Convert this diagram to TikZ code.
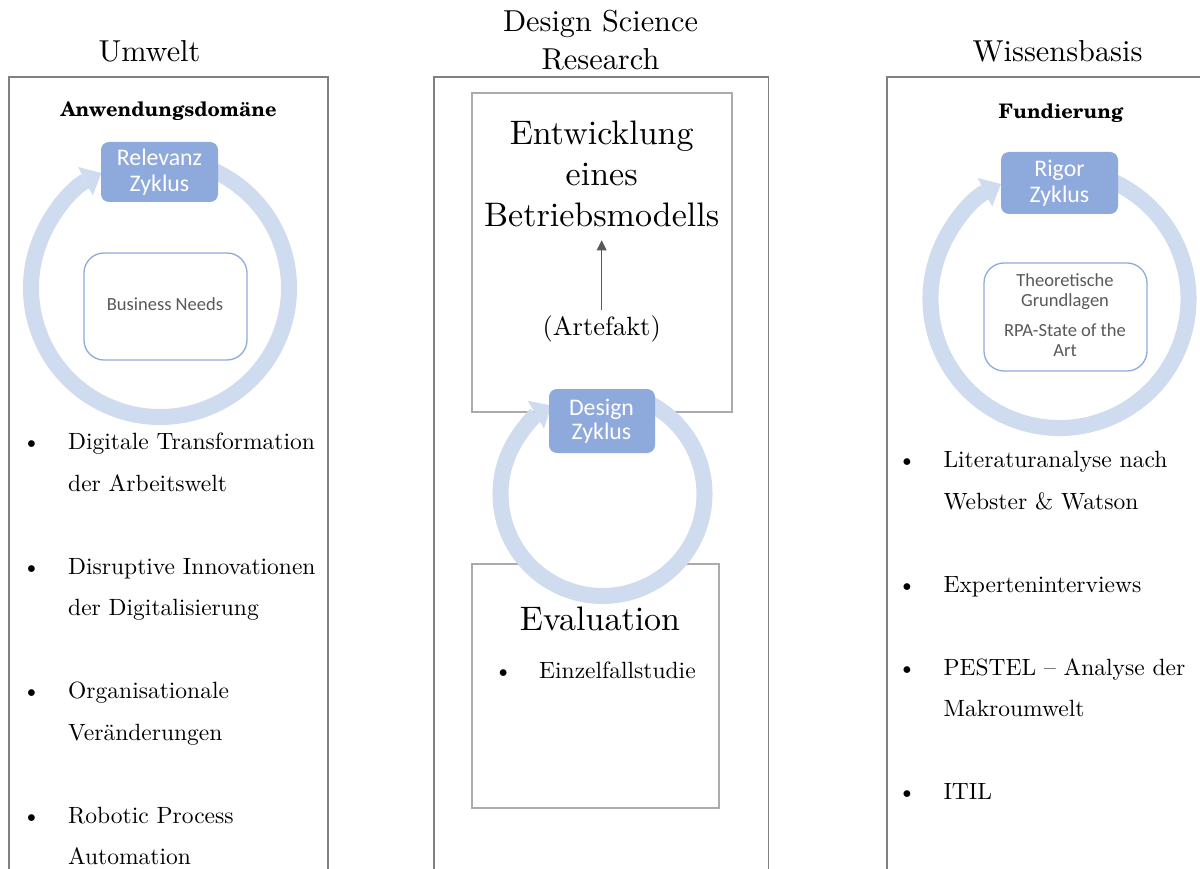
\documentclass[tikz,border=0pt]{standalone}
\usepackage{fontspec}
\setmainfont{lmroman10-regular.otf}[BoldFont=lmroman10-bold.otf]
\setsansfont{Carlito}
\newfontfamily\headfont{texgyreschola-bold.otf}
\usetikzlibrary{arrows.meta}
\definecolor{ringblue}{HTML}{CFDBEE}
\definecolor{cycfill}{HTML}{8EA9DB}
\definecolor{innerline}{HTML}{8FAADC}
\definecolor{textgray}{HTML}{595959}
\definecolor{outergray}{HTML}{808080}
\definecolor{boxgray}{HTML}{ABABAB}
\tikzset{
  titletext/.style={font=\fontsize{30.3}{36}\selectfont, anchor=base, inner sep=0pt},
  bodytext/.style={font=\fontsize{23.5}{28}\selectfont, anchor=base west, inner sep=0pt},
  bullettext/.style={font=\fontsize{23.5}{28}\selectfont, anchor=base, inner sep=0pt},
  headtext/.style={font=\headfont\fontsize{20}{24}\selectfont, anchor=base, inner sep=0pt},
  bigtext/.style={font=\fontsize{34}{40}\selectfont, anchor=base, inner sep=0pt},
  arttext/.style={font=\fontsize{26.4}{30}\selectfont, anchor=base, inner sep=0pt},
  cycbox/.style={fill=cycfill, draw=none, rounded corners=8pt, inner sep=0pt},
  cyctext/.style={font=\sffamily\fontsize{23.8}{26}\selectfont, text=white, anchor=base, inner sep=0pt},
  softbox/.style={draw=innerline, line width=1.3pt, rounded corners=20pt, inner sep=0pt},
  softtext/.style={font=\sffamily\fontsize{18.5}{20}\selectfont, text=textgray, anchor=base, inner sep=0pt},
  outerbox/.style={draw=outergray, line width=1.5pt},
  graybox/.style={draw=boxgray, line width=1.5pt},
  ringarrow/.style={draw=ringblue, line width=16pt, -{Triangle[width=32pt,length=18pt,line width=0pt]}},
  artarrow/.style={draw=textgray, line width=1.5pt, -{Triangle[width=10pt,length=10pt,line width=0pt]}},
}
\begin{document}
\begin{tikzpicture}[x=1pt,y=1pt]
\useasboundingbox (0,0) rectangle (1200,-869);
\clip (0,0) rectangle (1200,-869);
\fill[white] (0,0) rectangle (1200,-869);

% titles
\node[titletext] (tumw) at (149.5,-62) {Umwelt};
\node[titletext] (tdsa) at (600.5,-32) {Design Science};
\node[titletext] (tdsb) at (600.5,-70) {Research};
\node[titletext] (twis) at (1057.5,-62) {Wissensbasis};

% outer boxes
\draw[outerbox] (9,-900) -- (9,-77) -- (328,-77) -- (328,-900);
\draw[outerbox] (434,-900) -- (434,-77) -- (768.5,-77) -- (768.5,-900);
\draw[outerbox] (887,-900) -- (887,-77) -- (1220,-77);

% ---------- left column ----------
\node[headtext] (anw) at (168.5,-116.5) {Anwendungsdomäne};
\draw[ringarrow] (160,-288) ++(70:129) arc[start angle=70, end angle=-243, radius=129];
\node[cycbox, minimum width=117pt, minimum height=60pt] (relbox) at (159.5,-172) {};
\node[cyctext] (rela) at (159.5,-166) {Relevanz};
\node[cyctext] (relb) at (159.5,-191.7) {Zyklus};
\node[softbox, minimum width=163pt, minimum height=107pt] (bnbox) at (165.5,-306.5) {};
\node[softtext] (bnt) at (165,-310) {Business Needs};

\node[bullettext] (lb1) at (31.5,-449) {•};
\node[bodytext] (l1a) at (68,-449) {Digitale Transformation};
\node[bodytext] (l1b) at (68,-491.5) {der Arbeitswelt};
\node[bullettext] (lb2) at (31.5,-574) {•};
\node[bodytext] (l2a) at (68,-574) {Disruptive Innovationen};
\node[bodytext] (l2b) at (68,-615.5) {der Digitalisierung};
\node[bullettext] (lb3) at (31.5,-698) {•};
\node[bodytext] (l3a) at (68,-698) {Organisationale};
\node[bodytext] (l3b) at (68,-740.5) {Veränderungen};
\node[bullettext] (lb4) at (31.5,-823) {•};
\node[bodytext] (l4a) at (68,-823) {Robotic Process};
\node[bodytext] (l4b) at (68,-864) {Automation};

% ---------- middle column ----------
\draw[graybox] (472,-93) rectangle (732,-412);
\node[bigtext] (enta) at (601.7,-145) {Entwicklung};
\node[bigtext] (entb) at (601.7,-186) {eines};
\node[bigtext] (entc) at (601.7,-226.7) {Betriebsmodells};
\node[arttext] (art) at (601.7,-335) {(Artefakt)};
\draw[artarrow] ([yshift=5pt]art.north) -- ([yshift=-13pt]art.north |- entc.south);

\draw[graybox] (472,-564) rectangle (719,-808);
\fill[white] (602.5,-494) circle[radius=100];
\draw[ringarrow] (602.5,-494) ++(62:102) arc[start angle=62, end angle=-240, radius=102];
\node[cycbox, minimum width=106pt, minimum height=64pt] (desbox) at (602,-421) {};
\node[cyctext] (desa) at (601.5,-415) {Design};
\node[cyctext] (desb) at (601.5,-439) {Zyklus};

\node[bigtext] (eva) at (600,-630) {Evaluation};
\node[bullettext] (mb1) at (503.3,-678.3) {•};
\node[bodytext] (m1) at (539,-678.3) {Einzelfallstudie};

% ---------- right column ----------
\node[headtext] (fund) at (1061,-119) {Fundierung};
\draw[ringarrow] (1059.5,-299) ++(70:129) arc[start angle=70, end angle=-243, radius=129];
\node[cycbox, minimum width=117pt, minimum height=62pt] (rigbox) at (1059.5,-183) {};
\node[cyctext] (riga) at (1059.5,-176.7) {Rigor};
\node[cyctext] (rigb) at (1059.5,-202.7) {Zyklus};
\node[softbox, minimum width=163pt, minimum height=108pt] (thbox) at (1065.5,-317) {};
\node[softtext] (tha) at (1065,-286.7) {Theoretische};
\node[softtext] (thb) at (1065,-306.7) {Grundlagen};
\node[softtext] (thc) at (1065,-336.7) {RPA-State of the};
\node[softtext] (thd) at (1065,-356.7) {Art};

\node[bullettext] (rb1) at (907,-467.5) {•};
\node[bodytext] (r1a) at (943.3,-467.5) {Literaturanalyse nach};
\node[bodytext] (r1b) at (943.3,-509) {Webster \& Watson};
\node[bullettext] (rb2) at (907,-592) {•};
\node[bodytext] (r2) at (943.3,-592) {Experteninterviews};
\node[bullettext] (rb3) at (907,-675) {•};
\node[bodytext] (r3a) at (943.3,-675) {PESTEL – Analyse der};
\node[bodytext] (r3b) at (943.3,-716.5) {Makroumwelt};
\node[bullettext] (rb4) at (907,-799.5) {•};
\node[bodytext] (r4) at (943.3,-799.5) {ITIL};
\end{tikzpicture}
\end{document}
